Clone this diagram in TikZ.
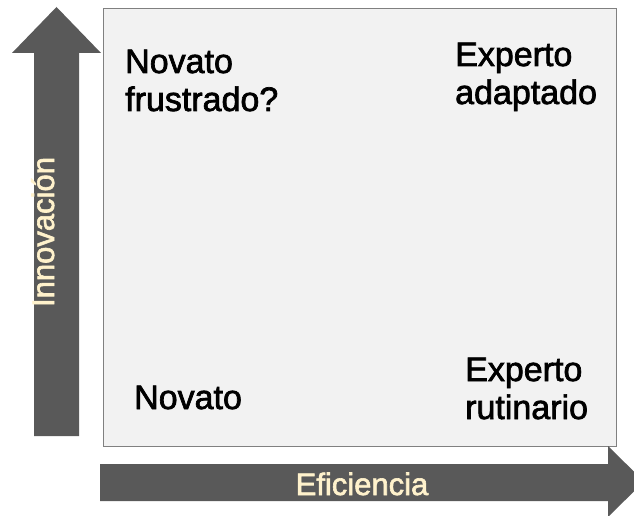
\documentclass[tikz,border=0pt]{standalone}
\usepackage{fontspec}
\setmainfont{Liberation Sans}
\newfontfamily\heavysans{Liberation Sans}[FakeBold=2]
\definecolor{arrowgray}{HTML}{595959}
\definecolor{cream}{HTML}{FFF2CC}
\definecolor{boxfill}{HTML}{F2F2F2}
\definecolor{boxline}{HTML}{808080}
\tikzset{
  bigarrow/.style={fill=arrowgray, draw=none},
  quadlabel/.style={inner sep=0pt, align=left, font=\heavysans\fontsize{34}{38}\selectfont, text=black},
  axislabel/.style={inner sep=0pt, font=\heavysans\fontsize{31}{36}\selectfont, text=cream},
}
\begin{document}
\begin{tikzpicture}[x=1pt,y=-1pt]
\useasboundingbox (0,0) rectangle (634,516);
\fill[white] (0,0) rectangle (634,516);
% quadrant box
\node[draw=boxline, fill=boxfill, line width=1pt, minimum width=513pt, minimum height=438pt, inner sep=0pt, anchor=north west] (box) at (103,8) {};
% vertical arrow
\fill[bigarrow] (34,436) -- (34,53) -- (12,53) -- (56.5,7) -- (101,53) -- (79,53) -- (79,436) -- cycle;
\node[axislabel, rotate=90, anchor=base] (inno) at (54,232) {Innovación};
% horizontal arrow
\fill[bigarrow] (100,464) -- (608,464) -- (608,446) -- (644,481.5) -- (608,517) -- (608,501) -- (100,501) -- cycle;
\node[axislabel, anchor=base] (efi) at (362,495) {Eficiencia};
% quadrant labels (base anchor = baseline of last line)
\node[quadlabel, anchor=base west] (nf) at (125,111) {Novato\\frustrado?};
\node[quadlabel, anchor=base west] (ea) at (455,104) {Experto\\adaptado};
\node[quadlabel, anchor=base west] (nv) at (134,409) {Novato};
\node[quadlabel, anchor=base west] (er) at (465,419) {Experto\\rutinario};
\end{tikzpicture}
\end{document}
